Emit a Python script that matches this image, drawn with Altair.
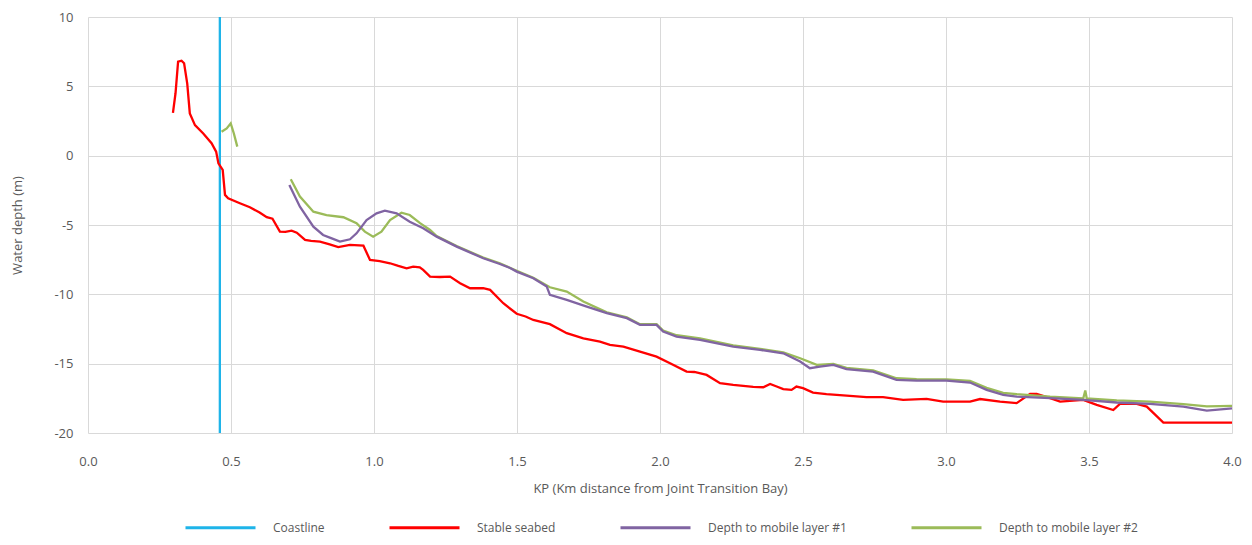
import altair as alt
import pandas as pd

series_names = ["Coastline", "Stable seabed", "Depth to mobile layer #1", "Depth to mobile layer #2"]
series_colors = ["#1EB4E9", "#FF0000", "#8064A2", "#9BBB59"]

coast_km = [0.461, 0.461]
coast_depth = [-20, 10]

stable_km = [0.297, 0.306, 0.315, 0.327, 0.336, 0.347, 0.356, 0.374, 0.403, 0.432, 0.448, 0.456,
             0.471, 0.479, 0.49, 0.531, 0.566, 0.60, 0.625, 0.645, 0.671, 0.69, 0.712, 0.73, 0.759,
             0.78, 0.811, 0.845, 0.875, 0.916, 0.963, 0.986, 1.02, 1.056, 1.085, 1.114, 1.137, 1.16,
             1.172, 1.196, 1.23, 1.266, 1.301, 1.336, 1.382, 1.406, 1.452, 1.499, 1.53, 1.557, 1.615,
             1.674, 1.732, 1.79, 1.825, 1.872, 1.93, 1.988, 2.035, 2.093, 2.12, 2.163, 2.21, 2.256,
             2.326, 2.361, 2.385, 2.408, 2.431, 2.46, 2.477, 2.5, 2.535, 2.582, 2.664, 2.722, 2.78,
             2.85, 2.932, 2.99, 3.084, 3.119, 3.189, 3.247, 3.294, 3.317, 3.364, 3.399, 3.48, 3.527,
             3.585, 3.608, 3.667, 3.702, 3.76, 4.0]
stable_depth = [3.08, 4.5, 6.78, 6.85, 6.66, 5.2, 3.05, 2.2, 1.6, 0.9, 0.29, -0.55,
                -1.03, -2.83, -3.07, -3.43, -3.72, -4.1, -4.44, -4.55, -5.48, -5.5, -5.41, -5.55, -6.08,
                -6.15, -6.2, -6.4, -6.6, -6.44, -6.49, -7.52, -7.6, -7.76, -7.95, -8.12, -8.0, -8.05,
                -8.24, -8.72, -8.75, -8.72, -9.2, -9.56, -9.56, -9.68, -10.64, -11.4, -11.6, -11.85, -12.15,
                -12.8, -13.17, -13.41, -13.65, -13.77, -14.13, -14.49, -14.97, -15.57, -15.6, -15.81, -16.41, -16.53,
                -16.68, -16.7, -16.46, -16.65, -16.84, -16.89, -16.65, -16.77, -17.09, -17.2, -17.33, -17.42, -17.42,
                -17.61, -17.54, -17.74, -17.74, -17.55, -17.74, -17.85, -17.18, -17.18, -17.49, -17.74, -17.61, -17.97,
                -18.34, -17.9, -17.9, -18.1, -19.25, -19.25]

m1_km = [0.704, 0.741, 0.788, 0.822, 0.85, 0.881, 0.916, 0.939, 0.974, 1.009, 1.038, 1.079, 1.125,
         1.172, 1.219, 1.289, 1.382, 1.44, 1.476, 1.499, 1.557, 1.604, 1.615, 1.674, 1.744, 1.814,
         1.884, 1.93, 1.988, 2.011, 2.058, 2.14, 2.256, 2.35, 2.431, 2.49, 2.524, 2.559, 2.606, 2.652,
         2.745, 2.827, 2.897, 3.002, 3.084, 3.142, 3.2, 3.247, 3.364, 3.48, 3.597, 3.713, 3.83, 3.912, 4.0]
m1_depth = [-2.11, -3.68, -5.12, -5.72, -5.95, -6.2, -6.03, -5.6, -4.64, -4.16, -3.97, -4.16, -4.76,
            -5.24, -5.84, -6.56, -7.4, -7.81, -8.1, -8.36, -8.84, -9.44, -10.04, -10.4, -10.89, -11.36,
            -11.72, -12.2, -12.2, -12.69, -13.05, -13.29, -13.77, -14.01, -14.25, -14.85, -15.33, -15.21, -15.09, -15.4,
            -15.57, -16.17, -16.22, -16.22, -16.36, -16.89, -17.25, -17.37, -17.49, -17.61, -17.8, -17.9, -18.1, -18.39, -18.22]

m2a_km = [0.467, 0.485, 0.499, 0.51, 0.522]
m2a_depth = [1.73, 1.97, 2.33, 1.6, 0.65]

m2b_km = [0.709, 0.741, 0.788, 0.834, 0.893, 0.939, 0.968, 0.997, 1.026, 1.056, 1.096, 1.125, 1.161,
          1.196, 1.219, 1.289, 1.382, 1.44, 1.499, 1.557, 1.615, 1.674, 1.732, 1.814, 1.884, 1.93,
          1.988, 2.011, 2.058, 2.14, 2.256, 2.35, 2.431, 2.49, 2.548, 2.606, 2.652, 2.745, 2.827, 2.897,
          3.002, 3.084, 3.142, 3.2, 3.247, 3.364, 3.48, 3.487, 3.492, 3.597, 3.713, 3.83, 3.912, 4.0]
m2b_depth = [-1.7, -2.95, -4.04, -4.28, -4.44, -4.87, -5.48, -5.84, -5.48, -4.64, -4.11, -4.28, -4.87,
             -5.36, -5.8, -6.52, -7.35, -7.76, -8.3, -8.8, -9.49, -9.8, -10.52, -11.3, -11.66, -12.15,
             -12.15, -12.62, -12.95, -13.18, -13.68, -13.93, -14.18, -14.61, -15.09, -15.02, -15.3, -15.48, -16.05, -16.12,
             -16.14, -16.25, -16.75, -17.1, -17.2, -17.38, -17.5, -16.94, -17.5, -17.65, -17.74, -17.92, -18.08, -18.05]


def frame(name, kms, depths, seg=0):
    return pd.DataFrame({"km": kms, "depth": depths, "series": name,
                         "seg": seg, "i": list(range(len(kms)))})


coast_df = frame(series_names[0], coast_km, coast_depth)
stable_df = frame(series_names[1], stable_km, stable_depth)
m1_df = frame(series_names[2], m1_km, m1_depth)
m2_df = pd.concat([frame(series_names[3], m2a_km, m2a_depth, 0),
                   frame(series_names[3], m2b_km, m2b_depth, 1)], ignore_index=True)

font = "Open Sans"
grey = "#595959"

x_enc = alt.X("km:Q", scale=alt.Scale(domain=[0, 4], nice=False),
              axis=alt.Axis(values=[0, 0.5, 1, 1.5, 2, 2.5, 3, 3.5, 4], format=".1f",
                            title="KP (Km distance from Joint Transition Bay)",
                            labelPadding=22, labelFlush=False,
                            titleX=572, titleY=55, titleBaseline="middle",
                            titleAnchor="middle"))
y_enc = alt.Y("depth:Q", scale=alt.Scale(domain=[-20, 10], nice=False),
              axis=alt.Axis(values=[-20, -15, -10, -5, 0, 5, 10], labelExpr="datum.value + ''",
                            title="Water depth (m)", labelPadding=15,
                            titleX=-71, titleY=208, titleAngle=-90,
                            titleBaseline="middle", titleAlign="center"))
color_enc = alt.Color("series:N", scale=alt.Scale(domain=series_names, range=series_colors),
                      legend=alt.Legend(title=None, orient="none", legendX=96, legendY=474,
                                        direction="horizontal", symbolType="stroke",
                                        symbolSize=4900, symbolStrokeWidth=3,
                                        labelFontSize=12, labelColor=grey, labelFont=font,
                                        labelOffset=16, columnPadding=58))


def layer(df):
    return alt.Chart(df).mark_line(strokeWidth=2.3).encode(
        x=x_enc, y=y_enc, color=color_enc, detail="seg:N", order="i:Q")


chart = alt.layer(layer(coast_df), layer(stable_df), layer(m2_df), layer(m1_df)).properties(
    width=1144, height=416,
    autosize=alt.AutoSizeParams(type="none"),
    padding={"left": 80, "top": 9, "right": 12, "bottom": 104},
).configure_view(stroke=None).configure_axis(
    grid=True, gridColor="#d9d9d9", gridWidth=1, domain=False, ticks=False,
    labelFont=font, labelFontSize=13, labelColor=grey,
    titleFont=font, titleFontSize=13, titleColor=grey, titleFontWeight="normal",
)

chart.save("out.html", embed_options={"renderer": "svg", "actions": False})
